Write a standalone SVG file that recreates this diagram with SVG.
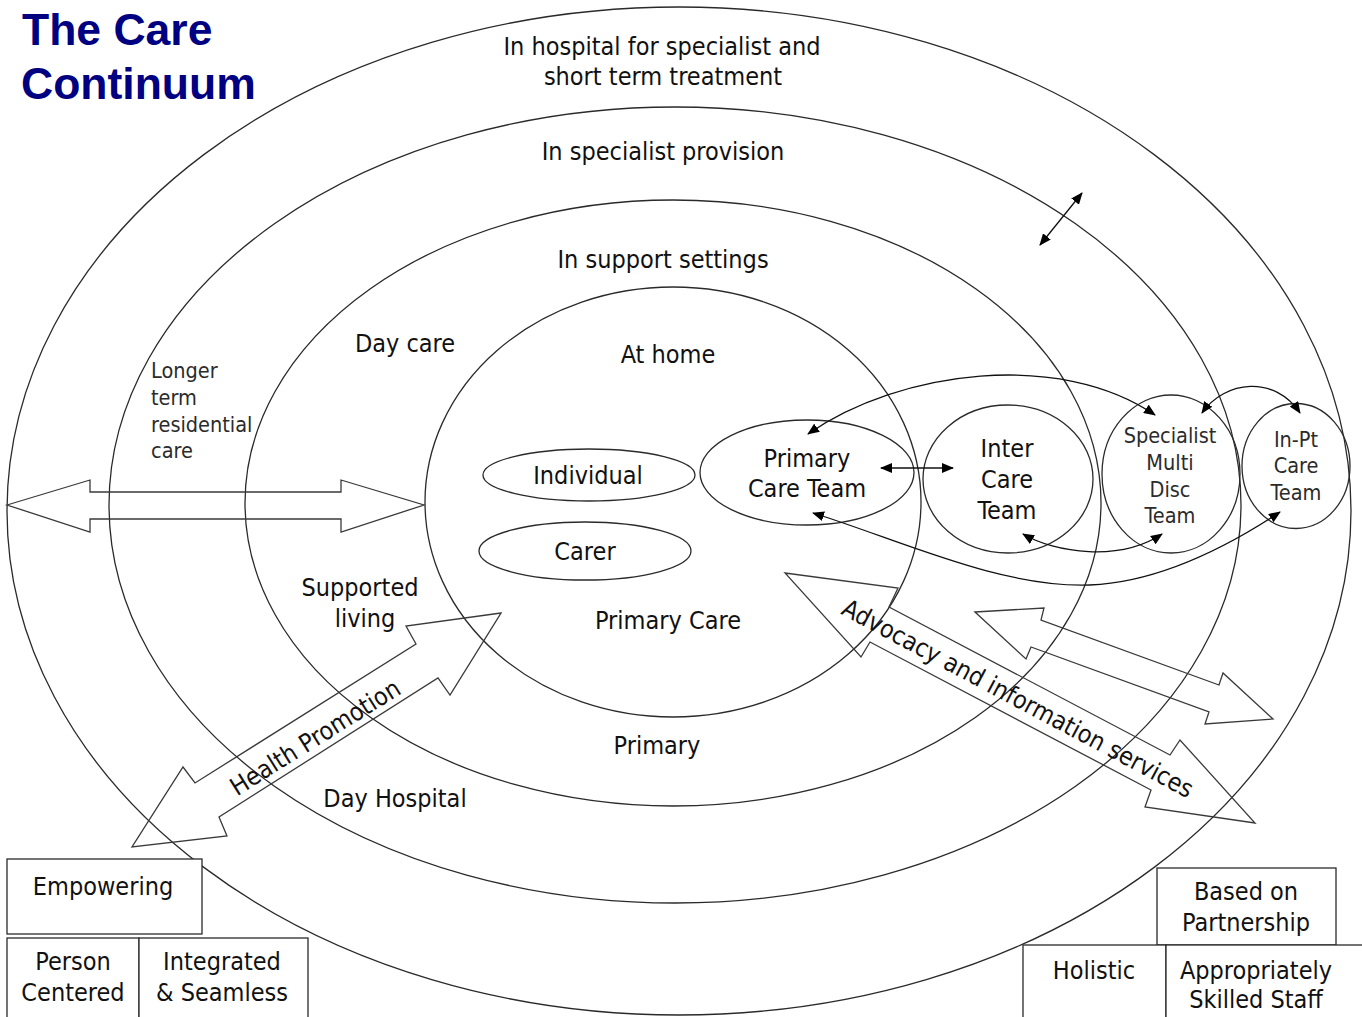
<svg xmlns="http://www.w3.org/2000/svg" width="1362" height="1017" viewBox="0 0 1362 1017">
  <style>
    .ring { fill: none; stroke: #2a2a2a; stroke-width: 1.3; }
    .node { fill: none; stroke: #2a2a2a; stroke-width: 1.3; }
    .box { fill: #ffffff; stroke: #2a2a2a; stroke-width: 1.3; }
    .block { fill: none; stroke: #3a3a3a; stroke-width: 1.3; stroke-linejoin: miter; }
    .link { fill: none; stroke: #111; stroke-width: 1.3; }
    .t { font-family: "DejaVu Sans Condensed", "DejaVu Sans", sans-serif; font-stretch: condensed; font-size: 25px; fill: #111; text-anchor: middle; }
    .lt { font-family: "DejaVu Sans Condensed", "DejaVu Sans", sans-serif; font-stretch: condensed; font-weight: 200; font-size: 21.5px; fill: #2b2b2b; }
    .title { font-family: "Liberation Sans", Arial, sans-serif; font-weight: bold; font-size: 44.5px; fill: #000080; }
  </style>
  <defs>
    <marker id="tip" viewBox="0 0 12 10" refX="11" refY="5" markerWidth="12" markerHeight="10" markerUnits="userSpaceOnUse" orient="auto-start-reverse">
      <path d="M0,0 L12,5 L0,10 Z" fill="#000"/>
    </marker>
  </defs>

  <rect width="1362" height="1017" fill="#ffffff"/>

  <!-- concentric care settings -->
  <g id="rings">
    <ellipse class="ring" cx="679" cy="511" rx="672" ry="504"/>
    <ellipse class="ring" cx="675" cy="505" rx="566" ry="398"/>
    <ellipse class="ring" cx="673" cy="503" rx="428" ry="303"/>
    <ellipse class="ring" cx="673" cy="502" rx="248" ry="215"/>
  </g>

  <!-- title -->
  <g id="title">
    <text class="title" x="22" y="45">The Care</text>
    <text class="title" x="21" y="99">Continuum</text>
  </g>

  <!-- setting labels -->
  <g id="setting-labels">
    <text class="t" x="662" y="55">In hospital for specialist and</text>
    <text class="t" x="663" y="85">short term treatment</text>
    <text class="t" x="663" y="160">In specialist provision</text>
    <text class="t" x="663" y="268">In support settings</text>
    <text class="t" x="668" y="363">At home</text>
    <text class="t" x="405" y="352">Day care</text>
    <text class="t" x="668" y="629">Primary Care</text>
    <text class="t" x="657" y="754">Primary</text>
    <text class="t" x="395" y="807">Day Hospital</text>
    <text class="t" x="360" y="596">Supported</text>
    <text class="t" x="365" y="627">living</text>
    <text class="lt" x="151" y="378">Longer</text>
    <text class="lt" x="151" y="405">term</text>
    <text class="lt" x="151" y="432">residential</text>
    <text class="lt" x="151" y="458">care</text>
  </g>

  <g id="individual">
    <ellipse class="node" cx="589" cy="475" rx="106" ry="26"/>
    <text class="t" x="588" y="484">Individual</text>
  </g>
  <g id="carer">
    <ellipse class="node" cx="585" cy="551" rx="106" ry="29"/>
    <text class="t" x="585" y="560">Carer</text>
  </g>

  <g id="primary-care-team">
    <ellipse class="node" cx="807" cy="472.5" rx="107" ry="52.5"/>
    <text class="t" x="807" y="467">Primary</text>
    <text class="t" x="807" y="497">Care Team</text>
  </g>
  <g id="inter-care-team">
    <ellipse class="node" cx="1008" cy="479" rx="85" ry="74"/>
    <text class="t" x="1007" y="457">Inter</text>
    <text class="t" x="1007" y="488">Care</text>
    <text class="t" x="1007" y="519">Team</text>
  </g>
  <g id="specialist-team">
    <ellipse class="node" cx="1171" cy="474" rx="69" ry="79"/>
    <text class="lt" x="1170" y="443" text-anchor="middle">Specialist</text>
    <text class="lt" x="1170" y="470" text-anchor="middle">Multi</text>
    <text class="lt" x="1170" y="497" text-anchor="middle">Disc</text>
    <text class="lt" x="1170" y="523" text-anchor="middle">Team</text>
  </g>
  <g id="inpatient-team">
    <ellipse class="node" cx="1296" cy="466" rx="54" ry="62.5"/>
    <text class="lt" x="1296" y="447" text-anchor="middle">In-Pt</text>
    <text class="lt" x="1296" y="473" text-anchor="middle">Care</text>
    <text class="lt" x="1296" y="500" text-anchor="middle">Team</text>
  </g>

  <!-- connectors between teams -->
  <g id="connectors">
    <path class="link" d="M881,468 L953,468" marker-start="url(#tip)" marker-end="url(#tip)"/>
    <path class="link" d="M808,434 C900,370 1060,350 1155,415" marker-start="url(#tip)" marker-end="url(#tip)"/>
    <path class="link" d="M1202,413 C1225,380 1275,375 1300,413" marker-start="url(#tip)" marker-end="url(#tip)"/>
    <path class="link" d="M813,513 C900,540 1000,588 1090,585 C1160,582 1230,545 1280,512" marker-start="url(#tip)" marker-end="url(#tip)"/>
    <path class="link" d="M1023,534 C1055,553 1120,562 1162,534" marker-start="url(#tip)" marker-end="url(#tip)"/>
    <path class="link" d="M1040,245 L1082,193" marker-start="url(#tip)" marker-end="url(#tip)"/>
  </g>

  <!-- block arrows -->
  <g id="movement-arrow">
    <polygon class="block" points="7,505 90,480 90,492 341,492 341,480 424,505 341,532 341,519 90,519 90,532"/>
  </g>
  <g id="health-promotion">
    <polygon class="block" points="501,613 406,626 416,644 195,783 183,767 132,847 227,836 219,817 438,678 450,695"/>
    <text class="t" x="315" y="746" font-size="26" transform="rotate(-32 315 737)">Health Promotion</text>
  </g>
  <g id="advocacy">
    <polygon class="block" points="785,573 898,588 889,607 1170,755 1180,740 1255,823 1145,807 1151,790 870,642 861,657"/>
    <text class="t" x="1018" y="707" transform="rotate(28 1018 698)">Advocacy and information services</text>
  </g>
  <g id="transfer-arrow">
    <polygon class="block" points="975,612 1044,608 1041,620 1219,685 1223,673 1273,719 1205,724 1209,712 1031,647 1026,659"/>
  </g>

  <!-- principles -->
  <g id="empowering">
    <rect class="box" x="7" y="859" width="195" height="75"/>
    <text class="t" x="103" y="895">Empowering</text>
  </g>
  <g id="person-centered">
    <rect class="box" x="7" y="938" width="132" height="90"/>
    <text class="t" x="73" y="970">Person</text>
    <text class="t" x="73" y="1001">Centered</text>
  </g>
  <g id="integrated">
    <rect class="box" x="139" y="938" width="169" height="90"/>
    <text class="t" x="222" y="970">Integrated</text>
    <text class="t" x="222" y="1001">&amp; Seamless</text>
  </g>
  <g id="partnership">
    <rect class="box" x="1157" y="868" width="179" height="77"/>
    <text class="t" x="1246" y="900">Based on</text>
    <text class="t" x="1246" y="931">Partnership</text>
  </g>
  <g id="holistic">
    <rect class="box" x="1023" y="945" width="143" height="90"/>
    <text class="t" x="1094" y="979">Holistic</text>
  </g>
  <g id="skilled-staff">
    <rect class="box" x="1166" y="945" width="210" height="90"/>
    <text class="t" x="1256" y="979">Appropriately</text>
    <text class="t" x="1256" y="1008">Skilled Staff</text>
  </g>
</svg>
